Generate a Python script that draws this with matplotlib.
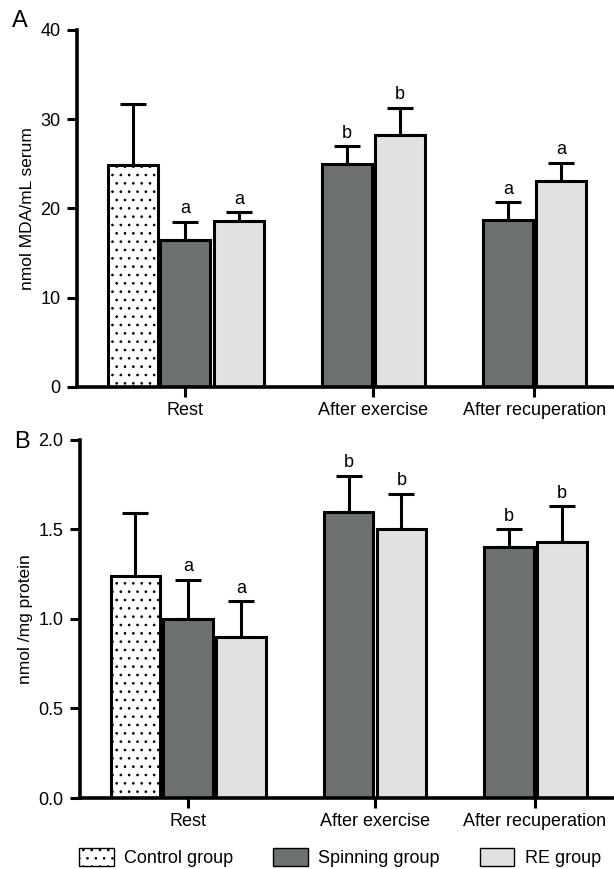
import matplotlib
matplotlib.use("Agg")
import matplotlib.pyplot as plt
from matplotlib.patches import Patch
import numpy as np

plt.rcParams['font.family'] = ['Liberation Sans', 'DejaVu Sans']
plt.rcParams['hatch.linewidth'] = 0.7

# group labels
groups = ["Rest", "After exercise", "After recuperation"]

# panel A: nmol MDA/mL serum
a_control = [24.9]
a_control_err = [6.8]
a_spin = [16.5, 25.0, 18.7]
a_spin_err = [2.0, 2.0, 2.0]
a_re = [18.6, 28.2, 23.1]
a_re_err = [1.0, 3.1, 2.0]
a_spin_sig = ["a", "b", "a"]
a_re_sig = ["a", "b", "a"]

# panel B: nmol /mg protein
b_control = [1.24]
b_control_err = [0.35]
b_spin = [1.00, 1.60, 1.40]
b_spin_err = [0.22, 0.20, 0.10]
b_re = [0.90, 1.50, 1.43]
b_re_err = [0.20, 0.20, 0.20]
b_spin_sig = ["a", "b", "b"]
b_re_sig = ["a", "b", "b"]

SPIN = "#6e7171"
RE = "#e0e1e3"
LW = 2.2
FS = 13

centers = [2.1, 5.74, 8.86]


def draw_panel(ax, ctrl, ctrl_err, spin, spin_err, re_, re_err, s_sig, r_sig, ymax, yticks, ylabel, off):
    # positions: rest has control/spin/re, others spin/re
    x_ctrl = [centers[0] - 1.02]
    x_spin = [centers[0]] + [c - 0.51 for c in centers[1:]]
    x_re = [centers[0] + 1.04] + [c + 0.52 for c in centers[1:]]

    ax.bar(x_ctrl, ctrl, width=0.97, color="white", edgecolor="black",
           linewidth=LW, hatch="..", zorder=3)
    ax.bar(x_spin, spin, width=0.97, color=SPIN, edgecolor="black",
           linewidth=LW, zorder=3)
    ax.bar(x_re, re_, width=0.97, color=RE, edgecolor="black",
           linewidth=LW, zorder=3)

    for xs, ys, es in [(x_ctrl, ctrl, ctrl_err), (x_spin, spin, spin_err), (x_re, re_, re_err)]:
        ax.errorbar(xs, ys, yerr=[np.zeros(len(es)), es], fmt="none", ecolor="black",
                    elinewidth=LW, capsize=9.5, capthick=LW, zorder=2)

    for xs, ys, es, sig in [(x_spin, spin, spin_err, s_sig), (x_re, re_, re_err, r_sig)]:
        for x, y, e, s in zip(xs, ys, es, sig):
            ax.text(x, y + e + off, s, ha="center", va="bottom", fontsize=FS)

    ax.set_xlim(0, 10.4)
    ax.set_ylim(0, ymax)
    ax.set_yticks(yticks)
    ax.set_xticks(centers)
    ax.set_xticklabels(groups, fontsize=FS)
    ax.set_ylabel(ylabel, fontsize=FS - 0.5, labelpad=4)
    ax.tick_params(axis="y", labelsize=FS, width=LW, length=7, pad=5)
    ax.tick_params(axis="x", width=LW, length=7, pad=4)
    for side in ["top", "right"]:
        ax.spines[side].set_visible(False)
    for side in ["left", "bottom"]:
        ax.spines[side].set_linewidth(2.6)
        ax.spines[side].set_zorder(4)


fig = plt.figure(figsize=(6.14, 8.69), dpi=100)
axA = fig.add_axes([0.1254, 0.5547, 0.8746, 0.4108])
axB = fig.add_axes([0.1303, 0.0817, 0.8697, 0.412])

draw_panel(axA, a_control, a_control_err, a_spin, a_spin_err, a_re, a_re_err,
           a_spin_sig, a_re_sig, 40, [0, 10, 20, 30, 40], "nmol MDA/mL serum", 0.5)
draw_panel(axB, b_control, b_control_err, b_spin, b_spin_err, b_re, b_re_err,
           b_spin_sig, b_re_sig, 2.0, [0.0, 0.5, 1.0, 1.5, 2.0], "nmol /mg protein", 0.025)
axB.set_yticklabels(["0.0", "0.5", "1.0", "1.5", "2.0"])

fig.text(0.033, 0.976, "A", fontsize=17, ha="center", va="center")
fig.text(0.036, 0.491, "B", fontsize=17, ha="center", va="center")

handles = [Patch(facecolor="white", edgecolor="black", hatch="..", linewidth=1.0),
           Patch(facecolor=SPIN, edgecolor="black", linewidth=1.0),
           Patch(facecolor=RE, edgecolor="black", linewidth=1.0)]
fig.legend(handles, ["Control group", "Spinning group", "RE group"], loc="center",
           bbox_to_anchor=(0.554, 0.013), ncol=3, frameon=False, fontsize=FS,
           handlelength=1.9, handleheight=1.1, handletextpad=0.6, columnspacing=2.2,
           borderpad=0)

fig.savefig("out.png", dpi=100)
